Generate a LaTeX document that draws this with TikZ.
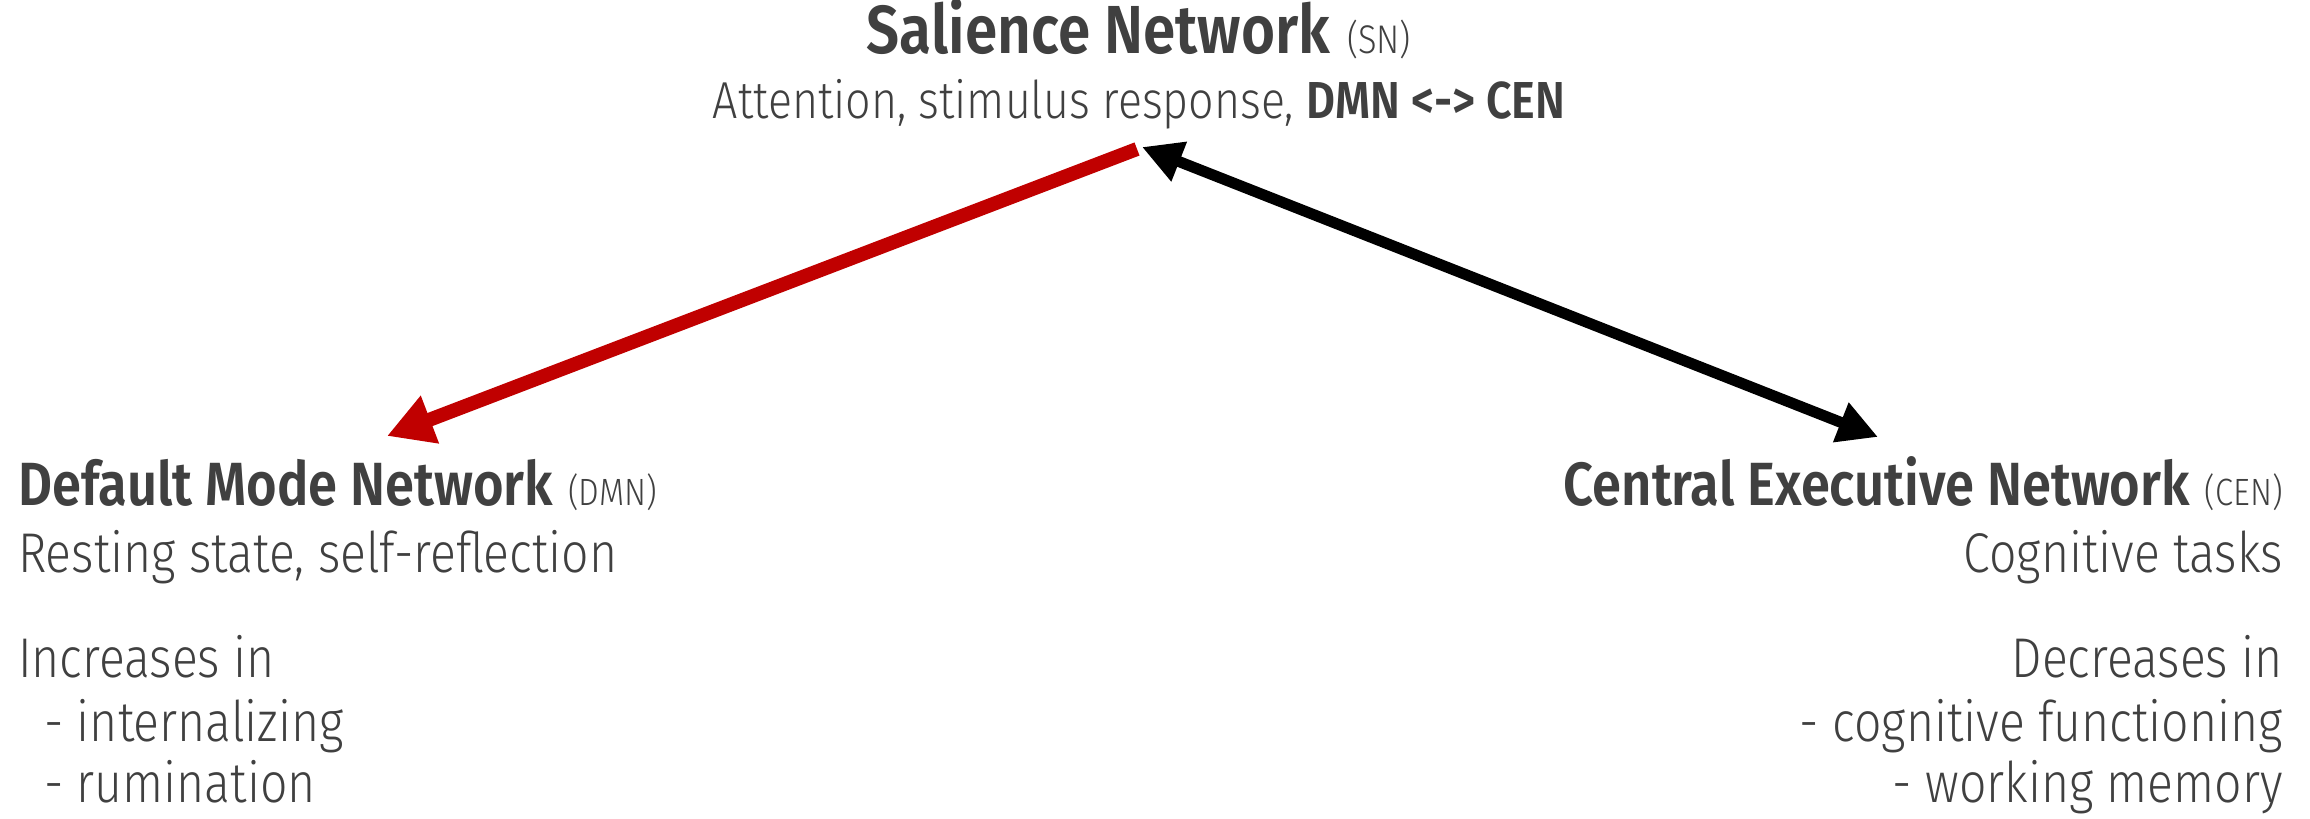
\documentclass[tikz,border=0pt]{standalone}
\usepackage{fontspec}
\setmainfont{Fira Sans Light}[BoldFont={Fira Sans SemiBold}, FakeStretch=0.86]
\usetikzlibrary{arrows.meta}
\definecolor{txt}{HTML}{404040}
\definecolor{redc}{HTML}{C00000}
\newcommand\parenlbl[2]{{\mdseries\fontsize{#1}{#1}\selectfont(#2)}}
\tikzset{
  toptitle/.style={text=txt, inner sep=0pt, font=\fontsize{68}{76}\selectfont},
  title/.style={text=txt, inner sep=0pt, font=\fontsize{61}{70}\selectfont},
  body/.style={text=txt, inner sep=0pt, font=\fontsize{56}{64}\selectfont},
  subtop/.style={body, font=\fontsize{52}{60}\selectfont},
  redarrow/.style={draw=redc, line width=14pt, line cap=butt, -{Triangle[length=46pt,width=48pt]}},
  blackarrow/.style={draw=black, line width=11pt, {Triangle[length=40pt,width=40pt]}-{Triangle[length=40pt,width=40pt]}}
}
\begin{document}
\begin{tikzpicture}[x=1pt,y=-1pt]
\useasboundingbox (0,0) rectangle (2310,819);
% top
\node[toptitle, anchor=base] (sn) at (1139,53) {\textbf{Salience Network} \parenlbl{40}{SN}};
\node[subtop, anchor=base] (snd) at (1139,118) {Attention, stimulus response, \textbf{DMN <-> CEN}};
% left
\node[title, anchor=base west] (dmn) at (18,505) {\textbf{Default Mode Network} \parenlbl{38}{DMN}};
\node[body, anchor=base west] (dmnd) at (18,572) {Resting state, self-reflection};
\node[body, anchor=base west] (dmn1) at (18,677) {Increases in};
\node[body, anchor=base west] (dmn2) at (44,741) {- internalizing};
\node[body, anchor=base west] (dmn3) at (44,802) {- rumination};
% right
\node[title, anchor=base east] (cen) at (2283,505) {\textbf{Central Executive Network} \parenlbl{38}{CEN}};
\node[body, anchor=base east] (cend) at (2283,572) {Cognitive tasks};
\node[body, anchor=base east] (cen1) at (2283,677) {Decreases in};
\node[body, anchor=base east] (cen2) at (2283,741) {- cognitive functioning};
\node[body, anchor=base east] (cen3) at (2283,802) {- working memory};
% arrow ends
\coordinate (snred) at (1137,149);
\coordinate (snblk) at (1142,147);
\coordinate (dmnpt) at (387,436);
\coordinate (cenpt) at (1878,437);
\draw[redarrow] (snred) -- (dmnpt);
\draw[blackarrow] (snblk) -- (cenpt);
\end{tikzpicture}
\end{document}
